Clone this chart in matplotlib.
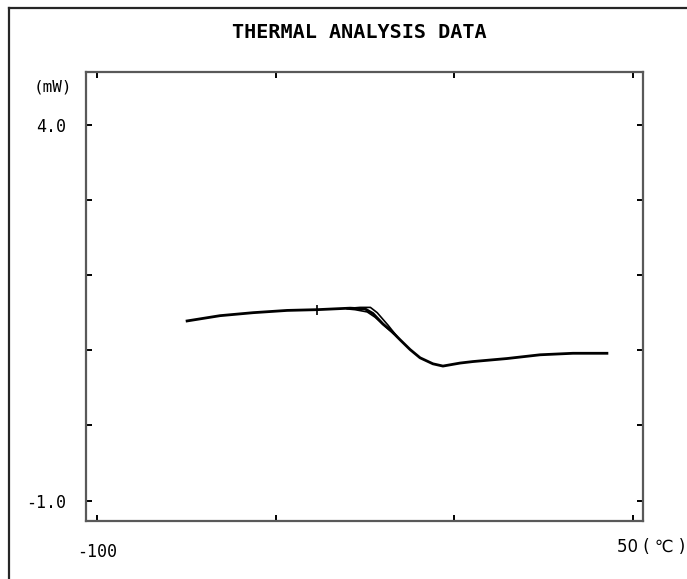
import matplotlib
matplotlib.use("Agg")
import matplotlib.pyplot as plt
from matplotlib.lines import Line2D

# main DSC trace (temperature in C, heat flow in mW)
temp = [-74.8, -65.6, -56.3, -46.8, -38.4, -29.2, -25.0, -22.8, -20.0, -17.5, -15.2,
        -12.4, -9.6, -6.0, -3.2, 1.6, 5.2, 14.7, 24.0, 33.2, 42.7]
heat = [1.39, 1.46, 1.50, 1.53, 1.54, 1.56, 1.55, 1.49, 1.35, 1.25, 1.14,
        1.01, 0.90, 0.82, 0.79, 0.83, 0.85, 0.89, 0.94, 0.96, 0.96]

# extra overlapping strands near the step
strand1_t = [-30.0, -27.8, -24.4, -22.2, -19.4, -17.0]
strand1_h = [1.55, 1.54, 1.51, 1.44, 1.32, 1.22]
strand2_t = [-29.0, -26.4, -23.5, -21.6, -18.5, -16.0]
strand2_h = [1.56, 1.57, 1.57, 1.50, 1.33, 1.18]

mark_t = -38.4
mark_h = 1.54

xticks = [-100, -50, 0, 50]
yticks = [-1, 0, 1, 2, 3, 4]
ytick_labels = ["-1.0", "", "", "", "", "4.0"]
xtick_labels = ["-100", "", "", ""]

W, H = 687, 579
fig = plt.figure(figsize=(W / 100, H / 100), dpi=100)
ax = fig.add_axes([86 / W, 1 - 521 / H, (643 - 86) / W, (521 - 72) / H])

ax.plot(temp, heat, color="black", lw=2.0)
ax.plot(strand1_t, strand1_h, color="black", lw=1.2)
ax.plot(strand2_t, strand2_h, color="black", lw=1.2)
ax.plot([mark_t], [mark_h], marker="|", color="black", ms=7, mew=1.2)

ax.set_xlim(-103.1, 52.8)
ax.set_ylim(-1.27, 4.70)
ax.set_xticks(xticks)
ax.set_xticklabels(xtick_labels)
ax.set_yticks(yticks)
ax.set_yticklabels(ytick_labels)
ax.tick_params(direction="in", length=4, width=1.4, color="black",
               top=True, right=True, labelsize=12, pad=14)
ax.tick_params(axis="x", pad=16)
for lab in ax.get_xticklabels() + ax.get_yticklabels():
    lab.set_family("DejaVu Sans Mono")

for s in ax.spines.values():
    s.set_color("0.35")
    s.set_linewidth(1.6)

fig.text(359 / W, 1 - 32 / H, "THERMAL ANALYSIS DATA", ha="center", va="center",
         family="DejaVu Sans Mono", fontweight="bold", fontsize=14.5)
fig.text(72 / W, 1 - 87 / H, "(mW)", ha="right", va="center",
         family="DejaVu Sans Mono", fontsize=11.5)
fig.text(685 / W, 1 - 547 / H, "50 ( ℃ )", ha="right", va="center",
         family="DejaVu Sans", fontsize=12)

# outer frame, left and top edges only visible
fig.add_artist(Line2D([9 / W, 9 / W], [0, 1 - 8 / H], color="0.15", lw=1.6))
fig.add_artist(Line2D([9 / W, 1], [1 - 8 / H, 1 - 8 / H], color="0.15", lw=1.6))

fig.savefig("out.png", dpi=100)
